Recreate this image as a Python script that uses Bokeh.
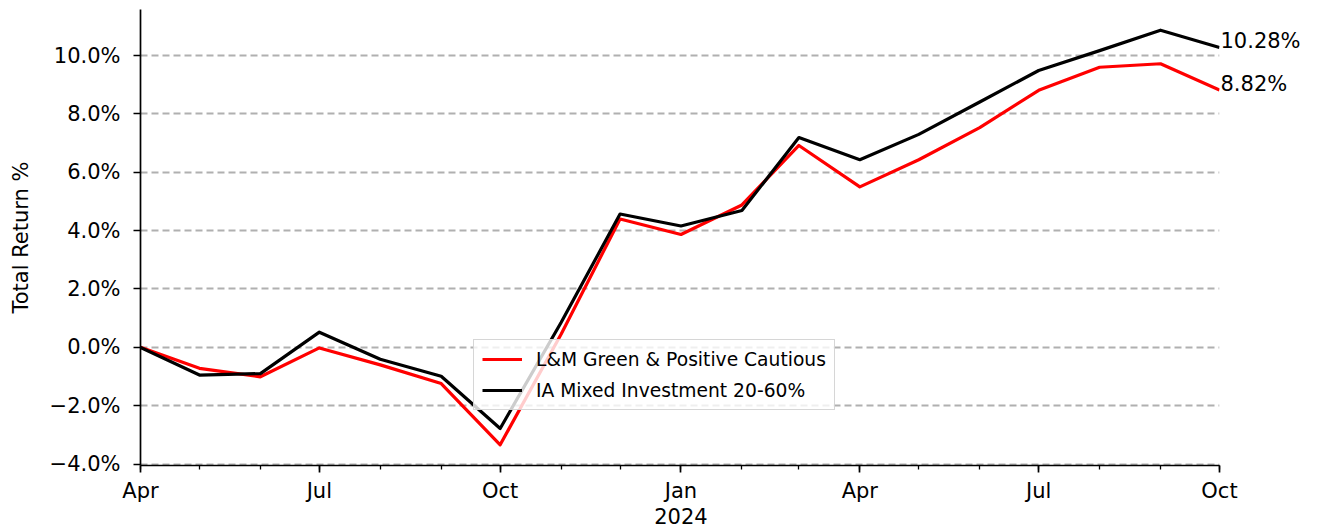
import pandas as pd
from bokeh.plotting import figure
from bokeh.models import Range1d, FixedTicker, Legend, LegendItem, LinearAxis
from bokeh.embed import file_html
from bokeh.resources import INLINE

# ---- data ----
dates = ["2023-04-01", "2023-05-01", "2023-06-01", "2023-07-01", "2023-08-01",
         "2023-09-01", "2023-10-01", "2023-11-01", "2023-12-01", "2024-01-01",
         "2024-02-01", "2024-03-01", "2024-04-01", "2024-05-01", "2024-06-01",
         "2024-07-01", "2024-08-01", "2024-09-01", "2024-10-01"]
fund_name = "L&M Green & Positive Cautious"
sector_name = "IA Mixed Investment 20-60%"
fund = [0.00, -0.72, -1.01, -0.02, -0.60, -1.24, -3.34, 0.45, 4.40, 3.87,
        4.88, 6.92, 5.50, 6.43, 7.53, 8.81, 9.60, 9.72, 8.82]
sector = [0.00, -0.95, -0.90, 0.52, -0.41, -0.99, -2.78, 0.85, 4.57, 4.16,
          4.69, 7.19, 6.43, 7.30, 8.41, 9.49, 10.17, 10.87, 10.28]

major_tick_dates = ["2023-04-01", "2023-07-01", "2023-10-01", "2024-01-01",
                    "2024-04-01", "2024-07-01", "2024-10-01"]
major_tick_labels = ["Apr", "Jul", "Oct", "Jan\n2024", "Apr", "Jul", "Oct"]
y_ticks = [-4, -2, 0, 2, 4, 6, 8, 10]
y_tick_labels = ["\u22124.0%", "\u22122.0%", "0.0%", "2.0%", "4.0%", "6.0%", "8.0%", "10.0%"]
y_title = "Total Return %"

# ---- conversions ----
t0 = pd.Timestamp(dates[0])
def day(d):
    return int((pd.Timestamp(d) - t0).days)

x = [day(d) for d in dates]
major_x = [day(d) for d in major_tick_dates]

FONT = "DejaVu Sans"
FS = "21px"

p = figure(width=1317, height=532, output_backend="svg", toolbar_location=None,
           x_range=Range1d(x[0], x[-1]), y_range=Range1d(-4.05, 11.58),
           min_border_left=140, min_border_right=98, min_border_top=9,
           min_border_bottom=66)
p.outline_line_color = None
p.background_fill_color = "white"
p.border_fill_color = "white"

r_fund = p.line(x, fund, line_color="#ff0000", line_width=3.2, line_join="round")
r_sector = p.line(x, sector, line_color="#000000", line_width=3.2, line_join="round")

# x axis
xa = p.xaxis[0]
xa.ticker = FixedTicker(ticks=major_x, minor_ticks=x)
xa.major_label_overrides = {mx: lab for mx, lab in zip(major_x, major_tick_labels)}
xa.major_label_text_font = FONT
xa.major_label_text_font_size = FS
xa.major_label_text_line_height = 1.12
xa.major_label_text_color = "#000000"
xa.major_label_standoff = 6
xa.axis_line_width = 1.7
xa.axis_line_color = "#000000"
xa.major_tick_line_width = 1.7
xa.major_tick_out = 7
xa.major_tick_in = 0
xa.minor_tick_line_width = 1.3
xa.minor_tick_out = 4
xa.minor_tick_in = 0

# y axis
ya = p.yaxis[0]
ya.ticker = FixedTicker(ticks=y_ticks, minor_ticks=[])
ya.major_label_overrides = {t: lab for t, lab in zip(y_ticks, y_tick_labels)}
ya.major_label_text_font = FONT
ya.major_label_text_font_size = FS
ya.major_label_text_color = "#000000"
ya.major_label_standoff = 13
ya.axis_line_width = 1.7
ya.axis_line_color = "#000000"
ya.major_tick_line_width = 1.7
ya.major_tick_out = 7
ya.major_tick_in = 0
ya.minor_tick_line_color = None
ya.axis_label = y_title
ya.axis_label_text_font = FONT
ya.axis_label_text_font_size = FS
ya.axis_label_text_font_style = "normal"
ya.axis_label_text_color = "#000000"
ya.axis_label_standoff = 14

# grid
p.xgrid.grid_line_color = None
p.ygrid.grid_line_color = "#b0b0b0"
p.ygrid.grid_line_width = 1.8
p.ygrid.grid_line_dash = "7 4"

# end-of-line value labels (as a bare right axis so they can sit outside the frame)
BASELINE_SHIFT = 0.22  # lifts the label's middle so its baseline sits on the value
end_vals = [sector[-1], fund[-1]]
end_ticks = [v + BASELINE_SHIFT for v in end_vals]
ra = LinearAxis(ticker=FixedTicker(ticks=end_ticks, minor_ticks=[]))
ra.major_label_overrides = {t: f"{v:.2f}%" for t, v in zip(end_ticks, end_vals)}
ra.major_label_text_font = FONT
ra.major_label_text_font_size = FS
ra.major_label_text_color = "#000000"
ra.major_label_standoff = 1
ra.axis_line_color = None
ra.major_tick_line_color = None
ra.minor_tick_line_color = None
ra.major_tick_out = 0
ra.major_tick_in = 0
p.add_layout(ra, "right")

# legend
legend = Legend(items=[LegendItem(label=fund_name, renderers=[r_fund]),
                       LegendItem(label=sector_name, renderers=[r_sector])],
                location=(333, 55), orientation="vertical")
legend.label_text_font = FONT
legend.label_text_font_size = "18.7px"
legend.label_text_color = "#000000"
legend.label_height = 22
legend.glyph_height = 22
legend.glyph_width = 40
legend.label_standoff = 14
legend.spacing = 9
legend.padding = 8
legend.margin = 0
legend.border_line_color = "#cccccc"
legend.border_line_width = 1.5
legend.border_line_alpha = 0.8
legend.background_fill_color = "white"
legend.background_fill_alpha = 0.8
p.add_layout(legend)

open("out.html", "w").write(file_html(p, INLINE))
